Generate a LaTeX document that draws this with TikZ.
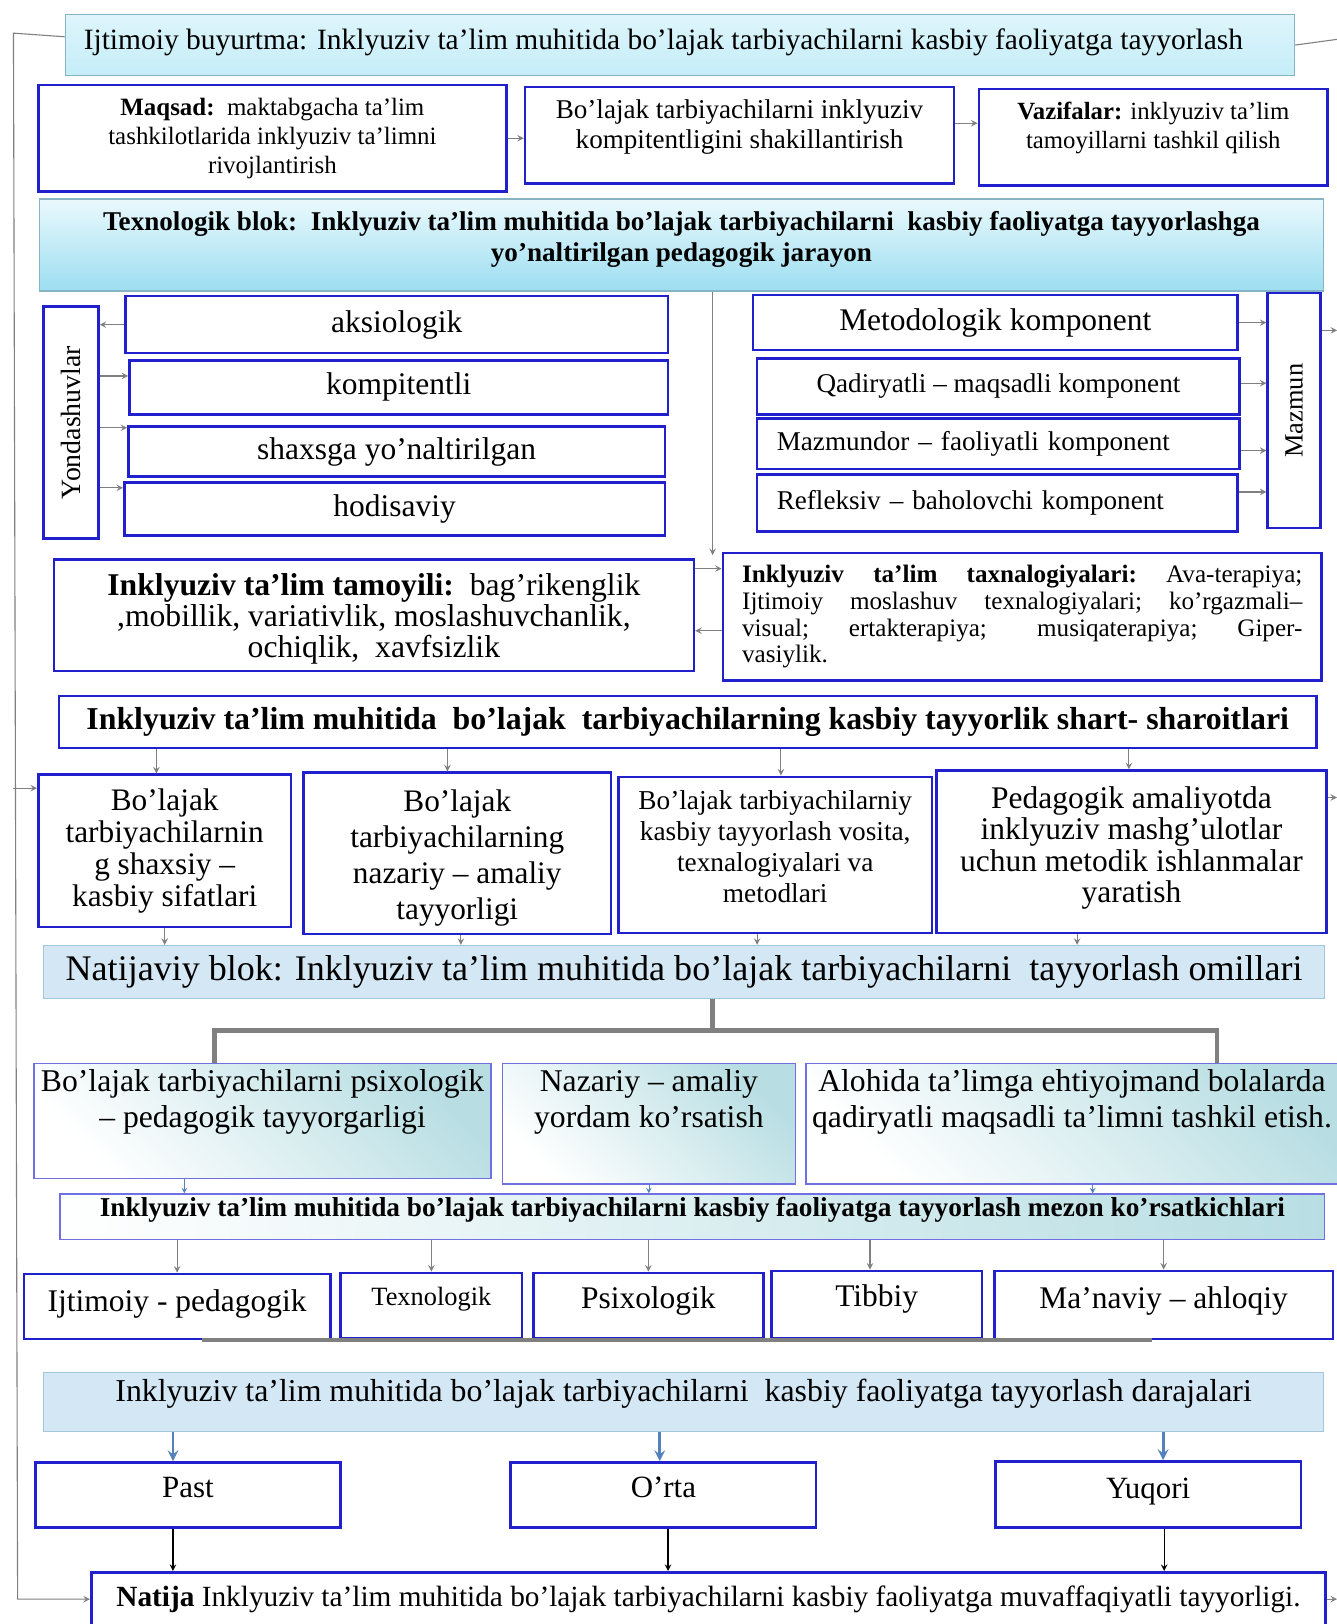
\documentclass[tikz,border=0pt]{standalone}
\usepackage{fontspec}
\setmainfont{Liberation Serif}
\usetikzlibrary{arrows.meta}
\usetikzlibrary{calc, positioning}
\definecolor{boxblue}{RGB}{32,32,204}
\definecolor{skyfill}{RGB}{196,237,248}
\definecolor{skydeep}{RGB}{156,222,241}
\definecolor{skyline}{RGB}{135,180,196}
\definecolor{palesteel}{RGB}{212,231,244}
\definecolor{paleline}{RGB}{165,198,216}
\definecolor{tealpale}{RGB}{184,222,227}
\definecolor{violetline}{RGB}{112,112,226}
\definecolor{steel}{RGB}{84,130,186}
\definecolor{arrowgray}{RGB}{128,128,128}
\tikzstyle{skybox} = [rectangle, draw=skyline, line width=0.8pt, top color=skyfill!55!white, bottom color=skyfill, align=center]
\tikzstyle{deepbox} = [rectangle, draw=skyline, line width=0.8pt, top color=skyfill!35!white, bottom color=skydeep, align=center]
\tikzstyle{bluebox} = [rectangle, draw=boxblue, line width=1.4pt, fill=white, align=center, inner sep=2pt]
\tikzstyle{palebox} = [rectangle, draw=paleline, line width=0.8pt, fill=palesteel, align=center]
\tikzstyle{tealbox} = [rectangle, draw=violetline, line width=0.8pt, top color=tealpale, bottom color=white, shading angle=-45]
\tikzstyle{mezonbox} = [rectangle, draw=violetline, line width=0.8pt, left color=white, right color=tealpale]
\tikzstyle{txt} = [align=center, inner sep=0pt]
\tikzstyle{arrow} = [->, >=stealth, arrowgray, semithick]
\tikzstyle{steelarrow} = [->, >=stealth, steel, line width=1.6pt]
\tikzstyle{blackarrow} = [->, >=stealth, black, semithick]
\tikzstyle{tiparrow} = [->, >=stealth, steel, thin]
\tikzstyle{feed} = [arrowgray, semithick]
\tikzstyle{bracket} = [arrowgray, line width=2.4pt]
\tikzstyle{fbig} = [font=\fontsize{17.3}{17.8}\selectfont]
\tikzstyle{fmid} = [font=\fontsize{14.9}{16.4}\selectfont]

\begin{document}
\begin{tikzpicture}[x=0.02cm, y=-0.02cm]
\useasboundingbox (0,0) rectangle (1290,1568);

% order, aim, tasks
\node (order) [skybox, minimum width=23.74cm, minimum height=1.18cm] at (656.5,43.5) {};
\node (ordert) [txt, font=\fontsize{16.2}{19}\selectfont] at ($(order.north)+(-16,28)$) {Ijtimoiy buyurtma: Inklyuziv ta’lim muhitida bo’lajak tarbiyachilarni kasbiy faoliyatga tayyorlash};
\node (maqsad) [bluebox, minimum width=9.04cm, minimum height=2.06cm, font=\fontsize{13.7}{15.9}\selectfont] at (263,133.5) {\textbf{Maqsad:}\ \ maktabgacha ta’lim\\tashkilotlarida inklyuziv ta’limni\\rivojlantirish};
\node (kompet) [bluebox, minimum width=8.28cm, minimum height=1.86cm] at (714,130.5) {};
\node (kompett) [txt, fmid] at ($(kompet.north)+(0,39.5)$) {Bo’lajak tarbiyachilarni inklyuziv\\kompitentligini shakillantirish};
\node (vazifa) [bluebox, minimum width=6.74cm, minimum height=1.86cm] at (1113.5,132.5) {};
\node (vazifat) [txt, font=\fontsize{13.6}{15.9}\selectfont] at ($(vazifa.north)+(0,39)$) {\textbf{Vazifalar:} inklyuziv ta’lim\\tamoyillarni tashkil qilish};

% technological block
\node (texn) [deepbox, minimum width=24.8cm, minimum height=1.78cm] at (658,236.5) {};
\node (texnt) [txt, font=\fontsize{14.9}{17}\selectfont\bfseries] at ($(texn.north)+(0,40)$) {Texnologik blok:\ \ Inklyuziv ta’lim muhitida bo’lajak tarbiyachilarni\ \ kasbiy faoliyatga tayyorlashga\\yo’naltirilgan pedagogik jarayon};

% approaches
\node (yond) [bluebox, minimum width=1.06cm, minimum height=4.48cm] at (68.5,408) {};
\node (yondt) [rotate=90, font=\fontsize{15.3}{17}\selectfont] at (yond) {Yondashuvlar};
\node (aks) [bluebox, fbig, minimum width=10.48cm, minimum height=1.1cm] at (383,313.5) {aksiologik};
\node (kom) [bluebox, fbig, minimum width=10.4cm, minimum height=1.04cm] at (385,374) {kompitentli};
\node (shax) [bluebox, fbig, minimum width=10.36cm, minimum height=0.96cm] at (383,436) {shaxsga yo’naltirilgan};
\node (hod) [bluebox, fbig, minimum width=10.44cm, minimum height=1.02cm] at (381,491.5) {hodisaviy};

% components
\node (metod) [bluebox, fbig, minimum width=9.36cm, minimum height=1.06cm] at (961,311.5) {Metodologik komponent};
\node (qadir) [bluebox, fmid, minimum width=9.32cm, minimum height=1.08cm] at (964,373) {Qadiryatli – maqsadli komponent};
\node (mazmund) [bluebox, fmid, minimum height=0.98cm, inner xsep=0.38cm, text width=8.56cm, align=left] at (964,428.5) {Mazmundor – faoliyatli komponent};
\node (refl) [bluebox, fmid, minimum height=1.1cm, inner xsep=0.38cm, text width=8.52cm, align=left] at (963,485.5) {Refleksiv – baholovchi komponent};
\node (mazmun) [bluebox, minimum width=1.02cm, minimum height=4.54cm] at (1249.5,396.5) {};
\node (mazmunt) [rotate=90, font=\fontsize{14.5}{17}\selectfont] at (mazmun) {Mazmun};

% principles and technologies
\node (tamoyil) [bluebox, minimum width=12.36cm, minimum height=2.16cm] at (361,594) {};
\node (tamoyilt) [txt, font=\fontsize{17.4}{17}\selectfont] at ($(tamoyil.north)+(0,59)$) {\textbf{Inklyuziv ta’lim tamoyili:}\ \ bag’rikenglik\\,mobillik, variativlik, moslashuvchanlik,\\ochiqlik,\ \ xavfsizlik};
\node (taxnal) [bluebox, minimum width=11.56cm, minimum height=2.46cm, text width=10.82cm, align=justify, font=\fontsize{13.8}{14.7}\selectfont\frenchspacing] at (987,595.5) {\textbf{Inklyuziv ta’lim taxnalogiyalari:} Ava-terapiya;\linebreak Ijtimoiy moslashuv texnalogiyalari; ko’rgazmali–\linebreak visual; ertakterapiya;\qquad musiqaterapiya; Giper-\linebreak vasiylik.};

% conditions
\node (shart) [bluebox, minimum width=24.28cm, minimum height=1cm, font=\fontsize{17.5}{18}\selectfont\bfseries] at (664,697) {Inklyuziv ta’lim muhitida\ \ bo’lajak\ \ tarbiyachilarning kasbiy tayyorlik shart- sharoitlari};
\node (b1) [bluebox, minimum width=4.88cm, minimum height=2.94cm, font=\fontsize{17.2}{17.6}\selectfont] at (159,821.5) {Bo’lajak\\tarbiyachilarnin\\g shaxsiy –\\kasbiy sifatlari};
\node (b2) [bluebox, minimum width=5.94cm, minimum height=3.12cm] at (441.5,824) {};
\node (b2t) [txt, font=\fontsize{17.2}{19.8}\selectfont] at ($(b2.north)+(0,84)$) {Bo’lajak\\tarbiyachilarning\\nazariy – amaliy\\tayyorligi};
\node (b3) [bluebox, minimum width=6.06cm, minimum height=3.02cm] at (748.5,825.5) {};
\node (b3t) [txt, font=\fontsize{15}{17}\selectfont] at ($(b3.north)+(0,69)$) {Bo’lajak tarbiyachilarniy\\kasbiy tayyorlash vosita,\\texnalogiyalari va\\metodlari};
\node (b4) [bluebox, minimum width=7.54cm, minimum height=3.14cm] at (1092.5,822.5) {};
\node (b4t) [txt, font=\fontsize{17.3}{17.2}\selectfont] at ($(b4.north)+(0,76)$) {Pedagogik amaliyotda\\inklyuziv mashg’ulotlar\\uchun metodik ishlanmalar\\yaratish};

% result block
\node (natij) [palebox, minimum width=24.74cm, minimum height=1.02cm, font=\fontsize{19.8}{22}\selectfont] at (660.5,938.5) {Natijaviy blok: Inklyuziv ta’lim muhitida bo’lajak tarbiyachilarni\ \ tayyorlash omillari};
\node (c1) [tealbox, minimum width=8.82cm, minimum height=2.22cm] at (253.5,1082.5) {};
\node (c1t) [txt, font=\fontsize{17.4}{20}\selectfont] at ($(c1.north)+(0,37.5)$) {Bo’lajak tarbiyachilarni psixologik\\– pedagogik tayyorgarligi};
\node (c2) [tealbox, minimum width=5.66cm, minimum height=2.32cm] at (626.5,1085) {};
\node (c2t) [txt, font=\fontsize{17.4}{20}\selectfont] at ($(c2.north)+(0,37.5)$) {Nazariy – amaliy\\yordam ko’rsatish};
\node (c3) [tealbox, minimum width=10.44cm, minimum height=2.32cm] at (1039,1085) {};
\node (c3t) [txt, font=\fontsize{17.4}{20}\selectfont] at ($(c3.north)+(-4,37.5)$) {Alohida ta’limga ehtiyojmand bolalarda\\qadiryatli maqsadli ta’limni tashkil etish.};

% criteria
\node (mezon) [mezonbox, minimum width=24.42cm, minimum height=0.88cm] at (668.5,1175) {};
\node (mezont) [txt, font=\fontsize{15}{16}\selectfont\bfseries] at ($(mezon.north)+(0,16)$) {Inklyuziv ta’lim muhitida bo’lajak tarbiyachilarni kasbiy faoliyatga tayyorlash mezon ko’rsatkichlari};
\node (d1) [bluebox, minimum width=5.92cm, minimum height=1.26cm] at (171,1261.5) {};
\node (d1t) [txt, fbig] at ($(d1.north)+(0,30)$) {Ijtimoiy - pedagogik};
\node (d2) [bluebox, minimum width=3.5cm, minimum height=1.26cm] at (416.5,1260.5) {};
\node (d2t) [txt, font=\fontsize{14.5}{16}\selectfont] at ($(d2.north)+(0,27)$) {Texnologik};
\node (d3) [bluebox, minimum width=4.44cm, minimum height=1.26cm] at (626,1260.5) {};
\node (d3t) [txt, fbig] at ($(d3.north)+(0,28)$) {Psixologik};
\node (d4) [bluebox, minimum width=4.06cm, minimum height=1.3cm] at (846.5,1259.5) {};
\node (d4t) [txt, fbig] at ($(d4.north)+(0,28)$) {Tibbiy};
\node (d5) [bluebox, minimum width=6.54cm, minimum height=1.32cm] at (1123.5,1260) {};
\node (d5t) [txt, fbig] at ($(d5.north)+(0,30)$) {Ma’naviy – ahloqiy};
\coordinate (g1) at (195,1294);
\coordinate (g2) at (1112,1294);
\draw[bracket] (g1) -- (g2);

% levels
\node (daraja) [palebox, minimum width=24.72cm, minimum height=1.14cm] at (660,1353.5) {};
\node (darajat) [txt, font=\fontsize{17.5}{19}\selectfont] at ($(daraja.north)+(0,21)$) {Inklyuziv ta’lim muhitida bo’lajak tarbiyachilarni\ \ kasbiy faoliyatga tayyorlash darajalari};
\node (past) [bluebox, minimum width=5.9cm, minimum height=1.26cm] at (181.5,1443.5) {};
\node (pastt) [txt, font=\fontsize{17}{19}\selectfont] at ($(past.north)+(0,25)$) {Past};
\node (orta) [bluebox, minimum width=5.9cm, minimum height=1.26cm] at (640.5,1443.5) {};
\node (ortat) [txt, font=\fontsize{17}{19}\selectfont] at ($(orta.north)+(0,25)$) {O’rta};
\node (yuqori) [bluebox, minimum width=5.9cm, minimum height=1.28cm] at (1108.5,1443) {};
\node (yuqorit) [txt, font=\fontsize{17}{19}\selectfont] at ($(yuqori.north)+(0,30)$) {Yuqori};
\node (natija) [bluebox, minimum width=23.84cm, minimum height=1.04cm, font=\fontsize{16.1}{18}\selectfont] at (684,1544) {\textbf{Natija} Inklyuziv ta’lim muhitida bo’lajak tarbiyachilarni kasbiy faoliyatga muvaffaqiyatli tayyorligi.};

% feedback lines
\coordinate (lt) at (13,32);
\coordinate (lb) at (17,1544);
\coordinate (rt) at (1291,38);
\draw[feed, ->, >=stealth] ([yshift=0.16cm]order.west) -- (lt) -- (lb) -- (natija.west);
\draw[arrow] ([yshift=1.21cm]b1.west -| lt) -- ([yshift=1.21cm]b1.west);
\draw[feed] (order.east) -- (rt);
\draw[arrow] ([yshift=1.55cm]mazmun.east) -- ([yshift=1.55cm]mazmun.east -| rt);
\draw[arrow] ([yshift=1.05cm]b4.east) -- ([yshift=1.05cm]b4.east -| rt);
\draw[arrow] (natija.east) -- (natija.east -| rt);

% upper arrows
\draw[arrow] (maqsad.east) -- (maqsad.east -| kompet.west);
\draw[arrow] ([yshift=0.23cm]kompet.east) -- ([yshift=0.23cm]kompet.east -| vazifa.west);
\draw[arrow] (aks.west) -- (aks.west -| yond.east);
\draw[arrow] ([yshift=0.22cm]kom.west -| yond.east) -- ([yshift=0.22cm]kom.west);
\draw[arrow] ([yshift=0.46cm]shax.west -| yond.east) -- ([yshift=0.46cm]shax.west);
\draw[arrow] ([yshift=0.41cm]hod.west -| yond.east) -- ([yshift=0.41cm]hod.west);
\draw[arrow] (metod.east) -- (metod.east -| mazmun.west);
\draw[arrow] ([yshift=0.06cm]qadir.east) -- ([yshift=0.06cm]qadir.east -| mazmun.west);
\draw[arrow] ([yshift=-0.13cm]mazmund.east) -- ([yshift=-0.13cm]mazmund.east -| mazmun.west);
\draw[arrow] ([yshift=0.21cm]refl.east) -- ([yshift=0.21cm]refl.east -| mazmun.west);
\coordinate (mid) at (688,536);
\draw[arrow] (texn.south -| mid) -- (mid);
\draw[arrow] ([yshift=0.9cm]tamoyil.east) -- ([yshift=0.9cm]tamoyil.east -| taxnal.west);
\draw[arrow] ([yshift=-0.27cm]taxnal.west) -- ([yshift=-0.27cm]taxnal.west -| tamoyil.east);

% conditions arrows
\draw[arrow] ([xshift=-0.16cm]b1.north |- shart.south) -- ([xshift=-0.16cm]b1.north);
\draw[arrow] ([xshift=-0.19cm]b2.north |- shart.south) -- ([xshift=-0.19cm]b2.north);
\draw[arrow] ([xshift=0.11cm]b3.north |- shart.south) -- ([xshift=0.11cm]b3.north);
\draw[arrow] ([xshift=-0.05cm]b4.north |- shart.south) -- ([xshift=-0.05cm]b4.north);
\draw[arrow] (b1.south) -- (b1.south |- natij.north);
\draw[arrow] ([xshift=0.07cm]b2.south) -- ([xshift=0.07cm]b2.south |- natij.north);
\draw[arrow] ([xshift=-0.35cm]b3.south) -- ([xshift=-0.35cm]b3.south |- natij.north);
\draw[arrow] ([xshift=-1.05cm]b4.south) -- ([xshift=-1.05cm]b4.south |- natij.north);

% result bracket
\coordinate (bm) at (688,995);
\coordinate (bl) at (207,995);
\coordinate (br) at (1175,995);
\draw[bracket] (natij.south -| bm) -- (bm);
\draw[bracket] (c1.north -| bl) -- (bl) -- (br) -- (c3.north -| br);
\draw[tiparrow] ([xshift=-1.51cm]c1.south) -- ([xshift=-1.51cm]c1.south |- mezon.north);
\draw[tiparrow] (c2.south) -- (c2.south |- mezon.north);
\draw[tiparrow] ([xshift=0.32cm]c3.south) -- ([xshift=0.32cm]c3.south |- mezon.north);

% criteria arrows
\draw[arrow] (d1.north |- mezon.south) -- (d1.north);
\draw[arrow] (d2.north |- mezon.south) -- (d2.north);
\draw[arrow] (d3.north |- mezon.south) -- (d3.north);
\draw[arrow] ([xshift=-0.13cm]d4.north |- mezon.south) -- ([xshift=-0.13cm]d4.north);
\draw[arrow] (d5.north |- mezon.south) -- (d5.north);

% level arrows
\draw[steelarrow] ([xshift=-0.29cm]past.north |- daraja.south) -- ([xshift=-0.29cm]past.north);
\draw[steelarrow] ([xshift=-0.07cm]orta.north |- daraja.south) -- ([xshift=-0.07cm]orta.north);
\draw[steelarrow] ([xshift=0.29cm]yuqori.north |- daraja.south) -- ([xshift=0.29cm]yuqori.north);
\draw[blackarrow] ([xshift=-0.29cm]past.south) -- ([xshift=-0.29cm]past.south |- natija.north);
\draw[blackarrow] ([xshift=0.09cm]orta.south) -- ([xshift=0.09cm]orta.south |- natija.north);
\draw[blackarrow] ([xshift=0.31cm]yuqori.south) -- ([xshift=0.31cm]yuqori.south |- natija.north);
\end{tikzpicture}
\end{document}
